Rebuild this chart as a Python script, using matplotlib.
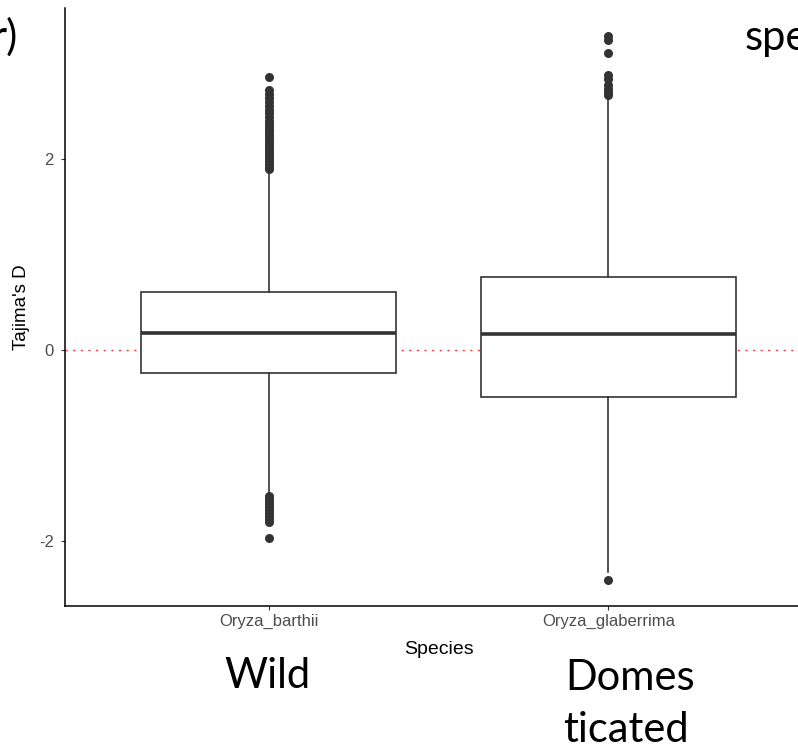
import matplotlib
matplotlib.use("Agg")
import matplotlib.pyplot as plt

# Tajima's D per species (box summary read as quartiles, whiskers and outliers)
species = ["Oryza_barthii", "Oryza_glaberrima"]
q1 = [-0.24, -0.49]
median = [0.18, 0.17]
q3 = [0.61, 0.76]
whisker_lo = [-1.50, -2.33]
whisker_hi = [1.87, 2.62]
outliers_barthii = [1.90, 1.92, 1.95, 1.98, 2.01, 2.04, 2.07, 2.10, 2.13, 2.16,
                    2.19, 2.22, 2.25, 2.28, 2.31, 2.34, 2.37, 2.40, 2.44, 2.48,
                    2.52, 2.56, 2.60, 2.64, 2.68, 2.72, 2.86,
                    -1.53, -1.56, -1.59, -1.62, -1.65, -1.68, -1.71, -1.74,
                    -1.77, -1.80, -1.97]
outliers_glaberrima = [2.67, 2.70, 2.74, 2.78, 2.84, 2.88, 3.11, 3.25, 3.29, -2.41]
outliers = [outliers_barthii, outliers_glaberrima]

yticks = [-2, 0, 2]
ytick_labels = ["-2", "0", "2"]

W, H = 798, 750
fig = plt.figure(figsize=(W / 100, H / 100), dpi=100)
# panel runs past the right edge of the slide crop
left, right, top, bottom = 65, 812, 8, 606
ax = fig.add_axes([left / W, 1 - bottom / H, (right - left) / W, (bottom - top) / H])

stats = []
for i, name in enumerate(species):
    stats.append(dict(label=name, q1=q1[i], med=median[i], q3=q3[i],
                      whislo=whisker_lo[i], whishi=whisker_hi[i], fliers=outliers[i]))

ax.axhline(0, color="#ff3333", linestyle=(0, (1.5, 4)), lw=1.0, zorder=1)

ink = "#333333"
ax.bxp(stats, positions=[1, 2], widths=0.75, patch_artist=True, showcaps=False,
       boxprops=dict(facecolor="white", edgecolor=ink, linewidth=1.2),
       medianprops=dict(color=ink, linewidth=2.6),
       whiskerprops=dict(color=ink, linewidth=1.2),
       flierprops=dict(marker="o", markerfacecolor=ink, markeredgecolor="none",
                       markersize=6.5),
       zorder=2)

ax.set_xlim(0.4, 2.6)
ax.set_ylim(-2.685, 3.585)
ax.set_yticks(yticks, ytick_labels)
ax.set_xticks([1, 2], species)

for s in ["top", "right"]:
    ax.spines[s].set_visible(False)
for s in ["left", "bottom"]:
    ax.spines[s].set_linewidth(1.1)
    ax.spines[s].set_color("black")

ax.tick_params(axis="both", length=3, width=0.8, color=ink, labelcolor="#4d4d4d",
               labelsize=12, pad=3)
ax.tick_params(axis="y", pad=5)
for lab in ax.get_xticklabels() + ax.get_yticklabels():
    lab.set_family("Liberation Sans")

ax.set_xlabel("Species", family="Liberation Sans", fontsize=14, labelpad=8)
ax.set_ylabel("Tajima's D", family="Liberation Sans", fontsize=13.5, va="center")
ax.yaxis.set_label_coords((22 - left) / (right - left), 0.5)

# slide text around the chart
slide = dict(family="Lato", fontsize=30, color="black")
fig.text(267 / W, 1 - 688 / H, "Wild", ha="center", va="baseline", **slide)
fig.text(630 / W, 1 - 690 / H, "Domes", ha="center", va="baseline", **slide)
fig.text(626 / W, 1 - 742 / H, "ticated", ha="center", va="baseline", **slide)
fig.text(17 / W, 1 - 50 / H, "r)", ha="right", va="baseline", **slide)
fig.text(745 / W, 1 - 50 / H, "spe", ha="left", va="baseline", **slide)

fig.savefig("out.png", dpi=100)
